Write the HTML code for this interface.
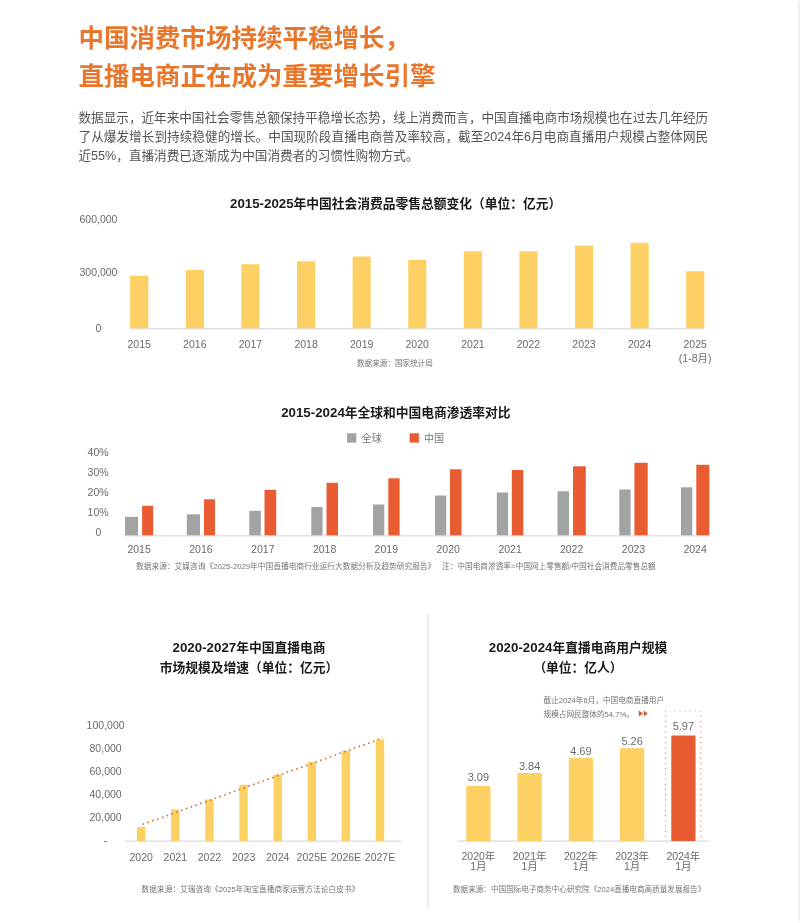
<!DOCTYPE html>
<html lang="zh-CN"><head><meta charset="utf-8"><title>中国消费市场持续平稳增长</title>
<style>
html,body{margin:0;padding:0;background:#fff;}
body{width:800px;height:923px;position:relative;overflow:hidden;font-family:"Liberation Sans","Noto Sans CJK SC",sans-serif;}
#edge{position:absolute;left:797.9px;top:1px;width:2.1px;height:921px;background:#efefef;}
h1{position:absolute;left:78.6px;top:19.3px;margin:0;font-size:25.5px;line-height:38px;font-weight:bold;color:#e9772b;white-space:nowrap;letter-spacing:0;}
.p{position:absolute;left:78.5px;width:629.7px;font-size:12.6px;line-height:18.75px;color:#555;white-space:nowrap;text-align:justify;text-align-last:justify;margin:0;}
.p.last{text-align-last:left;text-align:left;}
svg{position:absolute;left:0;top:0;}
svg text{font-family:"Liberation Sans","Noto Sans CJK SC",sans-serif;}
.t{font-weight:bold;fill:#1a1a1a;font-size:12.6px;text-anchor:middle;}
.ax{fill:#6a6a6a;font-size:10.5px;}
.src{fill:#747474;font-size:7.6px;}
</style></head><body>
<div id="edge"></div>
<h1>中国消费市场持续平稳增长，<br>直播电商正在成为重要增长引擎</h1>
<p class="p" style="top:108.7px">数据显示，近年来中国社会零售总额保持平稳增长态势，线上消费而言，中国直播电商市场规模也在过去几年经历</p>
<p class="p" style="top:128.3px">了从爆发增长到持续稳健的增长。中国现阶段直播电商普及率较高，截至2024年6月电商直播用户规模占整体网民</p>
<p class="p last" style="top:147px">近55%，直播消费已逐渐成为中国消费者的习惯性购物方式。</p>
<svg width="800" height="923" viewBox="0 0 800 923">

<text class="t" x="230" y="208.3" style="font-size:12.75px;text-anchor:start"><tspan style="font-size:13.3px">2015-2025</tspan>年中国社会消费品零售总额变化（单位：亿元）</text>
<rect x="130" y="328.0" width="574.3" height="1.5" fill="#e2e2e5"/>
<rect x="130.2" y="275.7" width="18.1" height="52.6" fill="#fdd063"/>
<text class="ax" x="139.2" y="348.2" text-anchor="middle">2015</text>
<rect x="185.8" y="270" width="18.1" height="58.3" fill="#fdd063"/>
<text class="ax" x="194.8" y="348.2" text-anchor="middle">2016</text>
<rect x="241.4" y="264.2" width="18.1" height="64.1" fill="#fdd063"/>
<text class="ax" x="250.4" y="348.2" text-anchor="middle">2017</text>
<rect x="297.0" y="261.2" width="18.1" height="67.1" fill="#fdd063"/>
<text class="ax" x="306.1" y="348.2" text-anchor="middle">2018</text>
<rect x="352.6" y="256.5" width="18.1" height="71.8" fill="#fdd063"/>
<text class="ax" x="361.7" y="348.2" text-anchor="middle">2019</text>
<rect x="408.2" y="260" width="18.1" height="68.3" fill="#fdd063"/>
<text class="ax" x="417.2" y="348.2" text-anchor="middle">2020</text>
<rect x="463.8" y="251.2" width="18.1" height="77.1" fill="#fdd063"/>
<text class="ax" x="472.9" y="348.2" text-anchor="middle">2021</text>
<rect x="519.4" y="251.2" width="18.1" height="77.1" fill="#fdd063"/>
<text class="ax" x="528.4" y="348.2" text-anchor="middle">2022</text>
<rect x="575.0" y="245.7" width="18.1" height="82.6" fill="#fdd063"/>
<text class="ax" x="584.0" y="348.2" text-anchor="middle">2023</text>
<rect x="630.6" y="242.8" width="18.1" height="85.5" fill="#fdd063"/>
<text class="ax" x="639.6" y="348.2" text-anchor="middle">2024</text>
<rect x="686.2" y="271.3" width="18.1" height="57.0" fill="#fdd063"/>
<text class="ax" x="695.2" y="348.2" text-anchor="middle">2025</text>
<text class="ax" x="695.2" y="362" text-anchor="middle">(1-8月)</text>
<text class="ax" x="79.5" y="222.5">600,000</text>
<text class="ax" x="79.5" y="276">300,000</text>
<text class="ax" x="95.5" y="331.5">0</text>
<text class="src" x="357" y="365.8">数据来源：国家统计局</text>
<text class="t" x="281.2" y="417.3" style="font-size:12.75px;text-anchor:start"><tspan style="font-size:13.3px">2015-2024</tspan>年全球和中国电商渗透率对比</text>
<rect x="347" y="433.3" width="9.3" height="9.3" fill="#a2a4a3"/><text class="ax" x="361.6" y="441.6" style="font-size:10.1px;fill:#777">全球</text>
<rect x="409.6" y="433.3" width="9.3" height="9.3" fill="#e95c32"/><text class="ax" x="424" y="441.6" style="font-size:10.1px;fill:#777">中国</text>
<rect x="125" y="535.1" width="584.3" height="1.4" fill="#e2e2e5"/>
<rect x="125" y="516.8" width="13" height="18.5" fill="#a2a4a3"/>
<rect x="142.1" y="505.8" width="11.1" height="29.5" fill="#e95c32"/>
<text class="ax" x="139.1" y="552.8" text-anchor="middle">2015</text>
<rect x="186.8" y="514.3" width="13.2" height="21.0" fill="#a2a4a3"/>
<rect x="204" y="499.3" width="11" height="36.0" fill="#e95c32"/>
<text class="ax" x="200.9" y="552.8" text-anchor="middle">2016</text>
<rect x="249.3" y="510.8" width="11.5" height="24.5" fill="#a2a4a3"/>
<rect x="264.5" y="489.8" width="11.7" height="45.5" fill="#e95c32"/>
<text class="ax" x="262.8" y="552.8" text-anchor="middle">2017</text>
<rect x="311.3" y="507" width="11.3" height="28.3" fill="#a2a4a3"/>
<rect x="326.5" y="482.8" width="11.5" height="52.5" fill="#e95c32"/>
<text class="ax" x="324.6" y="552.8" text-anchor="middle">2018</text>
<rect x="373" y="504.5" width="11.3" height="30.8" fill="#a2a4a3"/>
<rect x="388.3" y="478.3" width="11.3" height="57.0" fill="#e95c32"/>
<text class="ax" x="386.3" y="552.8" text-anchor="middle">2019</text>
<rect x="435" y="495.5" width="11.3" height="39.8" fill="#a2a4a3"/>
<rect x="450" y="469.3" width="11.5" height="66.0" fill="#e95c32"/>
<text class="ax" x="448.2" y="552.8" text-anchor="middle">2020</text>
<rect x="496.8" y="492.5" width="11.3" height="42.8" fill="#a2a4a3"/>
<rect x="511.8" y="470" width="11.5" height="65.3" fill="#e95c32"/>
<text class="ax" x="510.1" y="552.8" text-anchor="middle">2021</text>
<rect x="557.5" y="491.3" width="11.5" height="44.0" fill="#a2a4a3"/>
<rect x="573" y="466.3" width="12.8" height="69.0" fill="#e95c32"/>
<text class="ax" x="571.6" y="552.8" text-anchor="middle">2022</text>
<rect x="619.3" y="489.5" width="11.3" height="45.8" fill="#a2a4a3"/>
<rect x="634.4" y="462.8" width="13.3" height="72.5" fill="#e95c32"/>
<text class="ax" x="633.5" y="552.8" text-anchor="middle">2023</text>
<rect x="681" y="487.3" width="11.3" height="48.0" fill="#a2a4a3"/>
<rect x="696.3" y="464.8" width="13" height="70.5" fill="#e95c32"/>
<text class="ax" x="695.1" y="552.8" text-anchor="middle">2024</text>
<text class="ax" x="87.6" y="456">40%</text>
<text class="ax" x="87.6" y="476">30%</text>
<text class="ax" x="87.6" y="495.8">20%</text>
<text class="ax" x="87.6" y="515.5">10%</text>
<text class="ax" x="95.5" y="536">0</text>
<text class="src" x="136" y="569" style="font-size:7.72px">数据来源：艾媒咨询《2025-2029年中国直播电商行业运行大数据分析及趋势研究报告》</text>
<text class="src" x="442" y="569" style="font-size:7.68px">注：中国电商渗透率=中国网上零售额/中国社会消费品零售总额</text>
<rect x="426.7" y="613.4" width="2.1" height="295.8" fill="#ececec"/>
<text class="t" x="249" y="652" style="font-size:12.75px;text-anchor:middle"><tspan style="font-size:13.3px">2020-2027</tspan>年中国直播电商</text>
<text class="t" x="249" y="672.1" style="font-size:12.75px;text-anchor:middle">市场规模及增速（单位：亿元）</text>
<rect x="125" y="840.5" width="275.8" height="1.5" fill="#e2e2e5"/>
<rect x="137.0" y="827" width="8.4" height="14.0" fill="#fdd063"/>
<text class="ax" x="141.2" y="860.5" text-anchor="middle">2020</text>
<rect x="171.1" y="809.5" width="8.4" height="31.5" fill="#fdd063"/>
<text class="ax" x="175.3" y="860.5" text-anchor="middle">2021</text>
<rect x="205.2" y="799.5" width="8.4" height="41.5" fill="#fdd063"/>
<text class="ax" x="209.4" y="860.5" text-anchor="middle">2022</text>
<rect x="239.4" y="784.8" width="8.4" height="56.2" fill="#fdd063"/>
<text class="ax" x="243.6" y="860.5" text-anchor="middle">2023</text>
<rect x="273.5" y="774.5" width="8.4" height="66.5" fill="#fdd063"/>
<text class="ax" x="277.7" y="860.5" text-anchor="middle">2024</text>
<rect x="307.6" y="762" width="8.4" height="79.0" fill="#fdd063"/>
<text class="ax" x="311.8" y="860.5" text-anchor="middle">2025E</text>
<rect x="341.7" y="750.8" width="8.4" height="90.2" fill="#fdd063"/>
<text class="ax" x="345.9" y="860.5" text-anchor="middle">2026E</text>
<rect x="375.8" y="739.5" width="8.4" height="101.5" fill="#fdd063"/>
<text class="ax" x="380.0" y="860.5" text-anchor="middle">2027E</text>
<text class="ax" x="105.6" y="728.8" text-anchor="middle">100,000</text>
<text class="ax" x="105.6" y="752" text-anchor="middle">80,000</text>
<text class="ax" x="105.6" y="775" text-anchor="middle">60,000</text>
<text class="ax" x="105.6" y="798.2" text-anchor="middle">40,000</text>
<text class="ax" x="105.6" y="821.3" text-anchor="middle">20,000</text>
<text class="ax" x="105.6" y="844" text-anchor="middle">-</text>
<line x1="142.6" y1="824.4" x2="383" y2="737.9" stroke="#cf753f" stroke-width="1.6" stroke-dasharray="1.7 3.4"/>
<text class="src" x="141.5" y="892" style="font-size:7.72px">数据来源：艾瑞咨询《2025年淘宝直播商家运营方法论白皮书》</text>
<text class="t" x="578" y="652.2" style="font-size:12.75px;text-anchor:middle"><tspan style="font-size:13.3px">2020-2024</tspan>年直播电商用户规模</text>
<text class="t" x="578" y="672.1" style="font-size:12.75px;text-anchor:middle">（单位：亿人）</text>
<rect x="457.8" y="840.4" width="251.5" height="1.5" fill="#e2e2e5"/>
<rect x="466.3" y="786" width="24.2" height="55.0" fill="#fdd063"/>
<text class="ax" x="478.4" y="781.1" text-anchor="middle" style="font-size:11px">3.09</text>
<text class="ax" x="478.4" y="860" text-anchor="middle">2020年</text>
<text class="ax" x="478.4" y="870.2" text-anchor="middle">1月</text>
<rect x="517.5" y="773" width="24.2" height="68.0" fill="#fdd063"/>
<text class="ax" x="529.6" y="769.8" text-anchor="middle" style="font-size:11px">3.84</text>
<text class="ax" x="529.6" y="860" text-anchor="middle">2021年</text>
<text class="ax" x="529.6" y="870.2" text-anchor="middle">1月</text>
<rect x="568.8" y="758" width="24.2" height="83.0" fill="#fdd063"/>
<text class="ax" x="580.9" y="754.9" text-anchor="middle" style="font-size:11px">4.69</text>
<text class="ax" x="580.9" y="860" text-anchor="middle">2022年</text>
<text class="ax" x="580.9" y="870.2" text-anchor="middle">1月</text>
<rect x="620.0" y="748.2" width="24.2" height="92.8" fill="#fdd063"/>
<text class="ax" x="632.1" y="745.4" text-anchor="middle" style="font-size:11px">5.26</text>
<text class="ax" x="632.1" y="860" text-anchor="middle">2023年</text>
<text class="ax" x="632.1" y="870.2" text-anchor="middle">1月</text>
<rect x="671.3" y="735.5" width="24.2" height="105.5" fill="#e95c32"/>
<text class="ax" x="683.4" y="730.2" text-anchor="middle" style="font-size:11px">5.97</text>
<text class="ax" x="683.4" y="860" text-anchor="middle">2024年</text>
<text class="ax" x="683.4" y="870.2" text-anchor="middle">1月</text>
<path d="M665.6 711.2V841M700.8 711.2V841" fill="none" stroke="#dc9a74" stroke-width="1.2" stroke-dasharray="1.3 3.92" stroke-dashoffset="0.6"/>
<path d="M670 711.2H698" fill="none" stroke="#eec7ae" stroke-width="1.2" stroke-dasharray="1.3 3.72" stroke-dashoffset="0.6"/>
<text class="src" x="543.5" y="702.6" style="font-size:7.65px">截止2024年6月，中国电商直播用户</text>
<text class="src" x="543.5" y="717.1" style="font-size:7.65px">规模占网民整体的54.7%。</text>
<path d="M638.8 710.4L643 713.5L638.8 716.6ZM643.7 710.4L647.9 713.5L643.7 716.6Z" fill="#dc5a30"/>
<text class="src" x="453" y="892">数据来源：中国国际电子商务中心研究院《2024直播电商高质量发展报告》</text>
</svg></body></html>
